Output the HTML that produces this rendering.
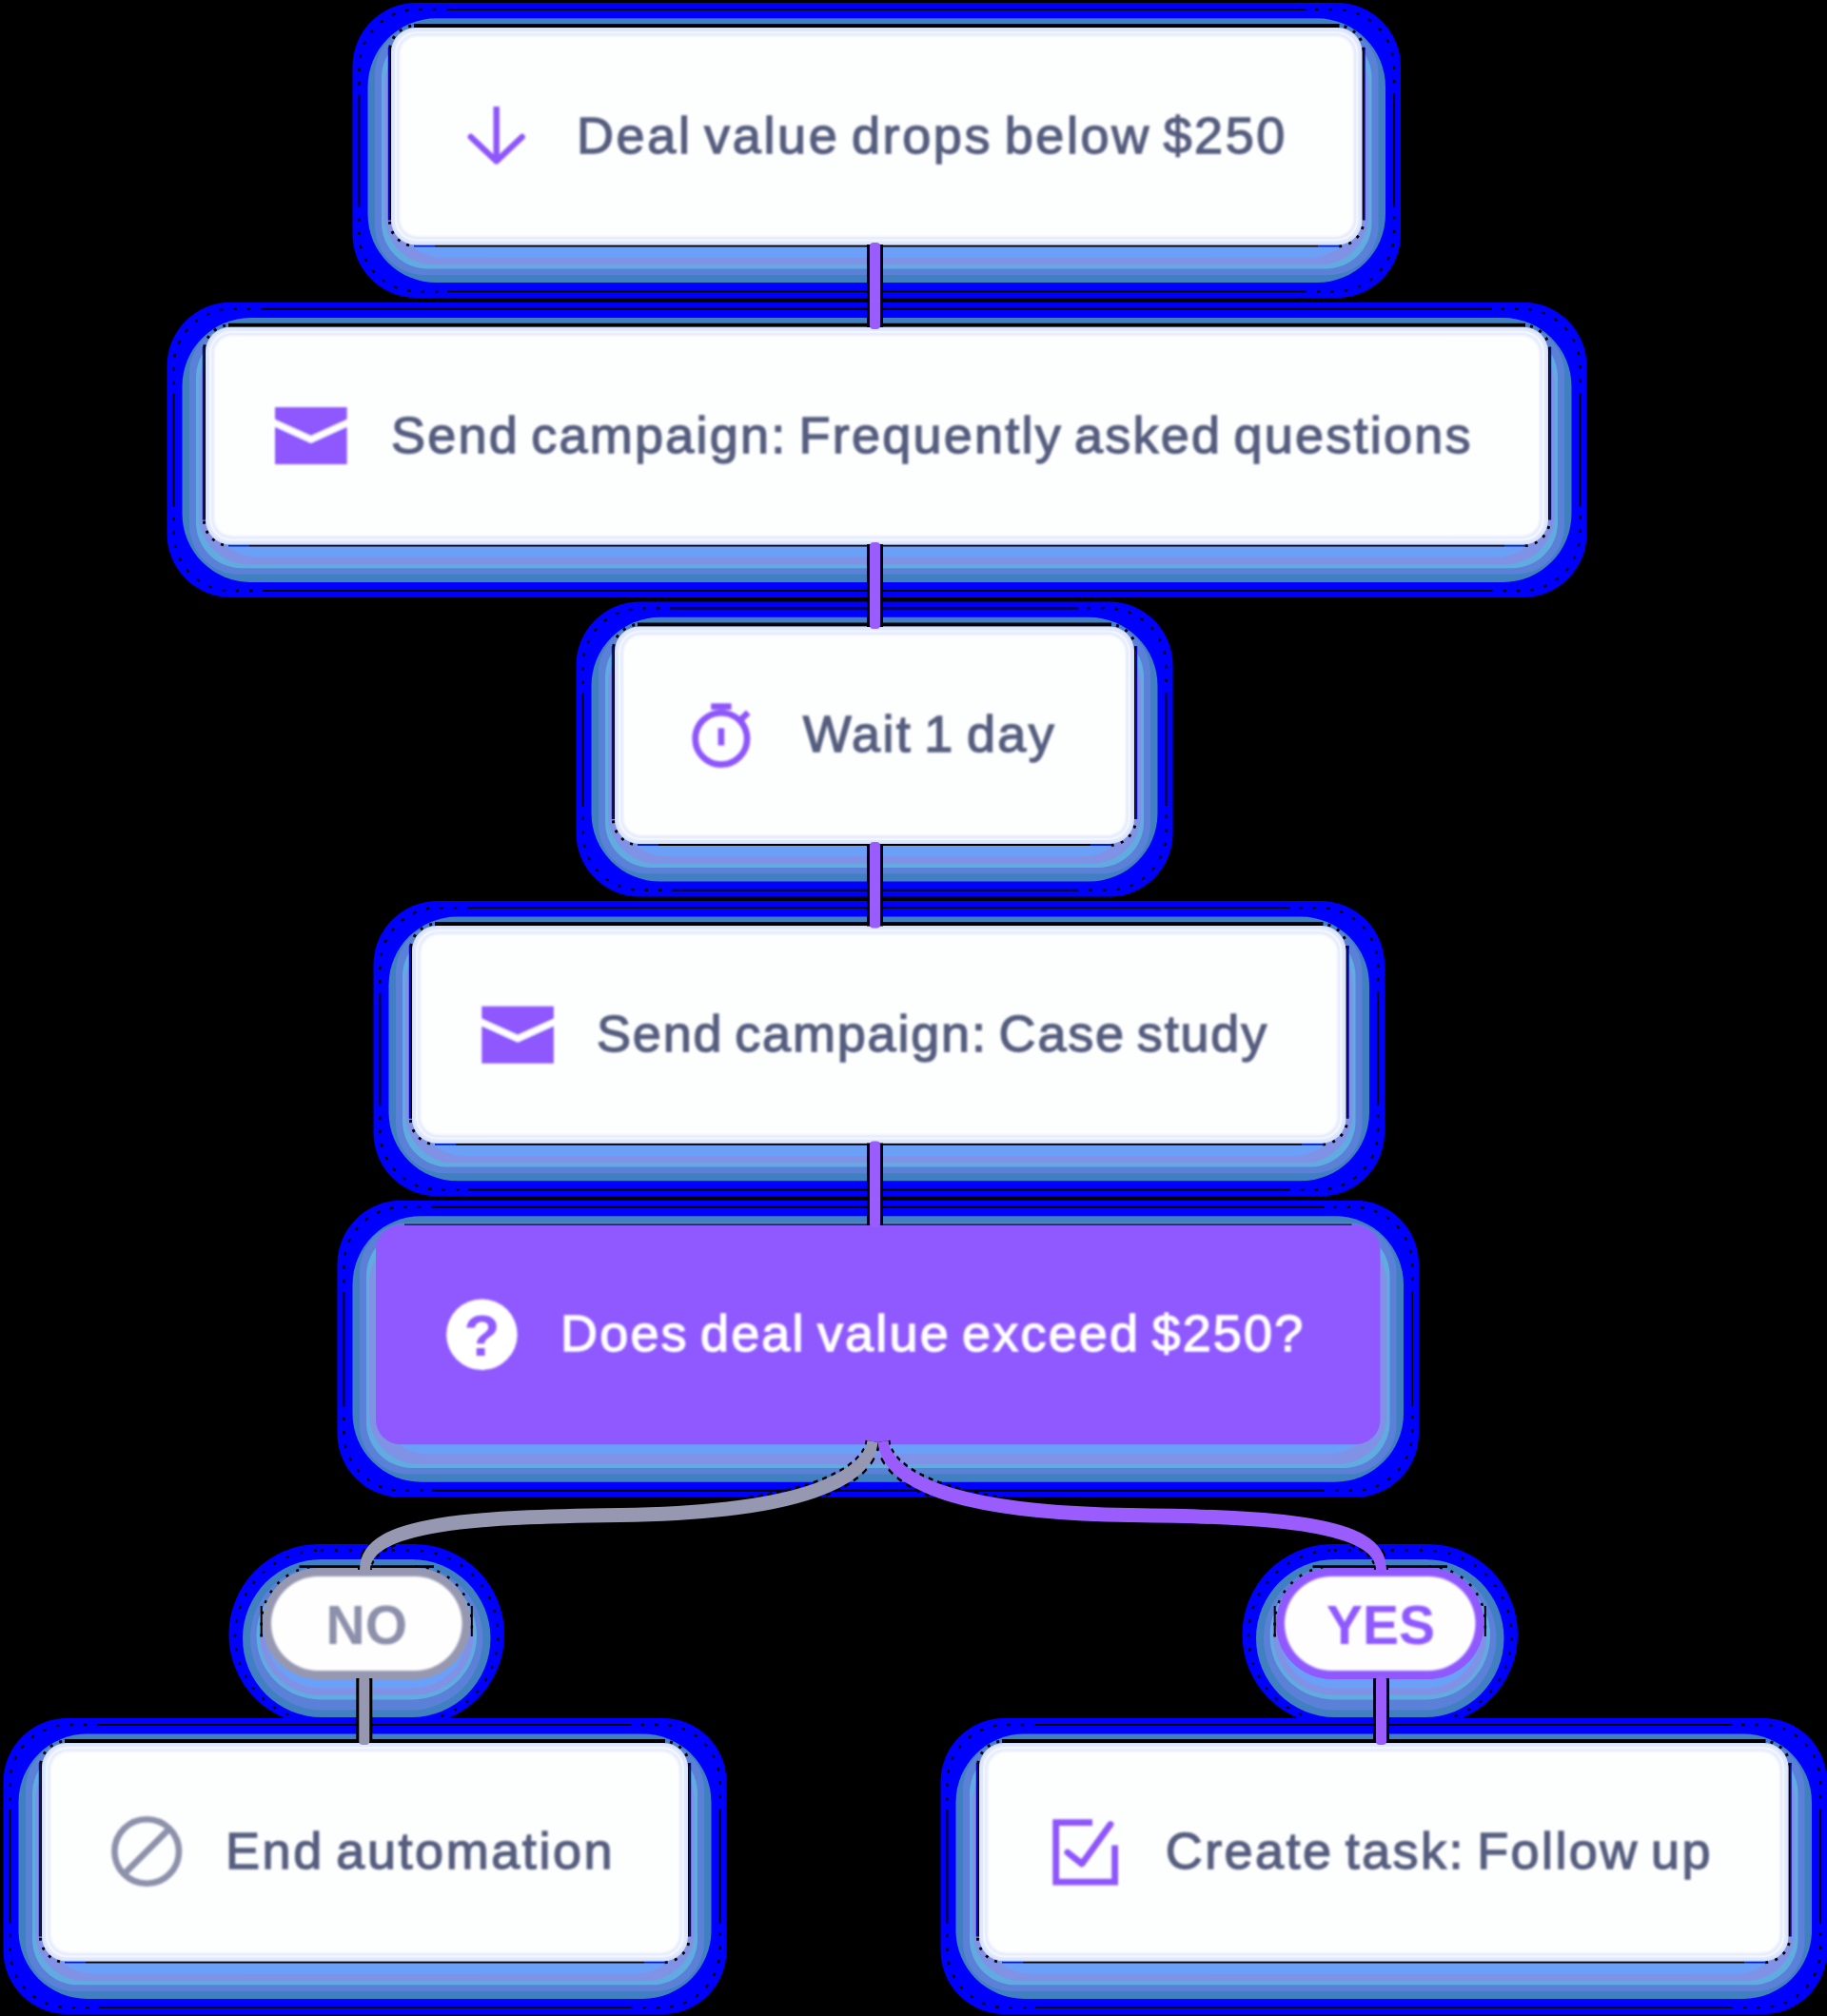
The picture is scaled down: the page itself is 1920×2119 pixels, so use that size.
<!DOCTYPE html>
<html><head><meta charset="utf-8"><title>Automation flow</title>
<style>
html,body{margin:0;padding:0;background:#000;}
body{width:1920px;height:2119px;position:relative;overflow:hidden;font-family:"Liberation Sans",sans-serif;}
.t{position:absolute;white-space:nowrap;font-weight:normal;font-size:54px;line-height:54px;filter:blur(0.9px);-webkit-text-stroke:1.35px currentColor;}
.bd{font-weight:bold;-webkit-text-stroke:0;}
svg{position:absolute;left:0;top:0;}
</style></head><body>
<svg width="1920" height="2119" viewBox="0 0 1920 2119" fill="none"><defs><filter id="bl" x="-5%" y="-5%" width="110%" height="110%"><feGaussianBlur stdDeviation="0.8"/></filter><filter id="bl2" x="-5%" y="-5%" width="110%" height="110%"><feGaussianBlur stdDeviation="1.1"/></filter></defs><rect x="370.5" y="2.9" width="1101.5" height="310.2" rx="67" fill="#0000ff"/><rect x="386.5" y="19.3" width="1069.5" height="277.8" rx="72" fill="#4080c0"/><rect x="394" y="25.9" width="1054.5" height="263.1" rx="52" fill="#5a80d8"/><rect x="401" y="33.9" width="1040.5" height="248.5" rx="48" fill="#60ace0"/><rect x="404" y="37.9" width="1034.5" height="240.5" rx="52" fill="#8092e6"/><rect x="414" y="44.9" width="1014.5" height="225.9" rx="52" fill="#6aa0f8"/><path d="M377.4 98.9V70.9A61 61 0 0 1 438.4 9.9H470M1372.5 9.9H1404.1A61 61 0 0 1 1465.1 70.9V98.9M1465.1 217.6V245.2A61 61 0 0 1 1404.1 306.2H1372.5M470 306.2H438.4A61 61 0 0 1 377.4 245.2V217.6" stroke="#000" stroke-width="2.4" stroke-dasharray="3.5 11" stroke-dashoffset="5"/><path d="M470 9.9H1372.5M470 306.2H1372.5M377.4 98.9V217.6M1465.1 98.9V217.6" stroke="#000" stroke-width="2"/><path d="M409.4 50.9V54.5A27.6 27.6 0 0 1 437 26.9H437.4M1405.1 26.9H1405.5A27.6 27.6 0 0 1 1433.1 54.5V50.9M1433.1 230.8V231.2A27.6 27.6 0 0 1 1405.5 258.8H1405.1M437.4 258.8H437A27.6 27.6 0 0 1 409.4 231.2V230.8" stroke="#000" stroke-width="3" stroke-dasharray="3 7.5" stroke-dashoffset="3"/><path d="M435 26.9H1407.5" stroke="#000" stroke-width="4"/><path d="M435 258.6H457M1385.5 258.6H1407.5" stroke="#0020c0" stroke-width="2"/><path d="M457 258.6H1385.5" stroke="#000" stroke-width="2"/><path d="M408.6 49.9V231.6M1433.9 49.9V231.6" stroke="#0000c8" stroke-width="1.6"/><path d="M410.2 49.9V231.6M1432.3 49.9V231.6" stroke="#000" stroke-width="1.8"/><rect x="411" y="28.9" width="1020.5" height="228.7" rx="26" fill="#d4defe"/><rect x="412.4" y="30.3" width="1017.7" height="225.9" rx="24.9" fill="#e2e8fb"/><rect x="415" y="32.9" width="1012.5" height="220.7" rx="22.8" fill="#f0f7ff"/><rect x="417.2" y="35.1" width="1008.1" height="216.3" rx="21" fill="#e8ecfd"/><rect x="419.6" y="37.5" width="1003.3" height="211.5" rx="19.1" fill="#f5f7fe"/><rect x="421.2" y="39.1" width="1000.1" height="208.3" rx="17.8" fill="#fdfefe"/><rect x="175.5" y="317.7" width="1492" height="310.2" rx="67" fill="#0000ff"/><rect x="191.5" y="334.1" width="1460" height="277.8" rx="72" fill="#4080c0"/><rect x="199" y="340.7" width="1445" height="263.1" rx="52" fill="#5a80d8"/><rect x="206" y="348.7" width="1431" height="248.5" rx="48" fill="#60ace0"/><rect x="209" y="352.7" width="1425" height="240.5" rx="52" fill="#8092e6"/><rect x="219" y="359.7" width="1405" height="225.9" rx="52" fill="#6aa0f8"/><path d="M182.4 413.7V385.7A61 61 0 0 1 243.4 324.7H275M1568 324.7H1599.6A61 61 0 0 1 1660.6 385.7V413.7M1660.6 532.4V560A61 61 0 0 1 1599.6 621H1568M275 621H243.4A61 61 0 0 1 182.4 560V532.4" stroke="#000" stroke-width="2.4" stroke-dasharray="3.5 11" stroke-dashoffset="5"/><path d="M275 324.7H1568M275 621H1568M182.4 413.7V532.4M1660.6 413.7V532.4" stroke="#000" stroke-width="2"/><path d="M214.4 365.7V369.3A27.6 27.6 0 0 1 242 341.7H242.4M1600.6 341.7H1601A27.6 27.6 0 0 1 1628.6 369.3V365.7M1628.6 545.6V546A27.6 27.6 0 0 1 1601 573.6H1600.6M242.4 573.6H242A27.6 27.6 0 0 1 214.4 546V545.6" stroke="#000" stroke-width="3" stroke-dasharray="3 7.5" stroke-dashoffset="3"/><path d="M240 341.7H1603" stroke="#000" stroke-width="4"/><path d="M240 573.4H262M1581 573.4H1603" stroke="#0020c0" stroke-width="2"/><path d="M262 573.4H1581" stroke="#000" stroke-width="2"/><path d="M213.6 364.7V546.4M1629.4 364.7V546.4" stroke="#0000c8" stroke-width="1.6"/><path d="M215.2 364.7V546.4M1627.8 364.7V546.4" stroke="#000" stroke-width="1.8"/><rect x="216" y="343.7" width="1411" height="228.7" rx="26" fill="#d4defe"/><rect x="217.4" y="345.1" width="1408.2" height="225.9" rx="24.9" fill="#e2e8fb"/><rect x="220" y="347.7" width="1403" height="220.7" rx="22.8" fill="#f0f7ff"/><rect x="222.2" y="349.9" width="1398.6" height="216.3" rx="21" fill="#e8ecfd"/><rect x="224.6" y="352.3" width="1393.8" height="211.5" rx="19.1" fill="#f5f7fe"/><rect x="226.2" y="353.9" width="1390.6" height="208.3" rx="17.8" fill="#fdfefe"/><rect x="605.5" y="632.4" width="627" height="310.2" rx="67" fill="#0000ff"/><rect x="621.5" y="648.8" width="595" height="277.8" rx="72" fill="#4080c0"/><rect x="629" y="655.4" width="580" height="263.1" rx="52" fill="#5a80d8"/><rect x="636" y="663.4" width="566" height="248.5" rx="48" fill="#60ace0"/><rect x="639" y="667.4" width="560" height="240.5" rx="52" fill="#8092e6"/><rect x="649" y="674.4" width="540" height="225.9" rx="52" fill="#6aa0f8"/><path d="M612.4 728.4V700.4A61 61 0 0 1 673.4 639.4H705M1133 639.4H1164.6A61 61 0 0 1 1225.6 700.4V728.4M1225.6 847.1V874.7A61 61 0 0 1 1164.6 935.7H1133M705 935.7H673.4A61 61 0 0 1 612.4 874.7V847.1" stroke="#000" stroke-width="2.4" stroke-dasharray="3.5 11" stroke-dashoffset="5"/><path d="M705 639.4H1133M705 935.7H1133M612.4 728.4V847.1M1225.6 728.4V847.1" stroke="#000" stroke-width="2"/><path d="M644.4 680.4V684A27.6 27.6 0 0 1 672 656.4H672.4M1165.6 656.4H1166A27.6 27.6 0 0 1 1193.6 684V680.4M1193.6 860.3V860.7A27.6 27.6 0 0 1 1166 888.3H1165.6M672.4 888.3H672A27.6 27.6 0 0 1 644.4 860.7V860.3" stroke="#000" stroke-width="3" stroke-dasharray="3 7.5" stroke-dashoffset="3"/><path d="M670 656.4H1168" stroke="#000" stroke-width="4"/><path d="M670 888.1H692M1146 888.1H1168" stroke="#0020c0" stroke-width="2"/><path d="M692 888.1H1146" stroke="#000" stroke-width="2"/><path d="M643.6 679.4V861.1M1194.4 679.4V861.1" stroke="#0000c8" stroke-width="1.6"/><path d="M645.2 679.4V861.1M1192.8 679.4V861.1" stroke="#000" stroke-width="1.8"/><rect x="646" y="658.4" width="546" height="228.7" rx="26" fill="#d4defe"/><rect x="647.4" y="659.8" width="543.2" height="225.9" rx="24.9" fill="#e2e8fb"/><rect x="650" y="662.4" width="538" height="220.7" rx="22.8" fill="#f0f7ff"/><rect x="652.2" y="664.6" width="533.6" height="216.3" rx="21" fill="#e8ecfd"/><rect x="654.6" y="667" width="528.8" height="211.5" rx="19.1" fill="#f5f7fe"/><rect x="656.2" y="668.6" width="525.6" height="208.3" rx="17.8" fill="#fdfefe"/><rect x="392.5" y="947.1" width="1062.5" height="310.2" rx="67" fill="#0000ff"/><rect x="408.5" y="963.5" width="1030.5" height="277.8" rx="72" fill="#4080c0"/><rect x="416" y="970.1" width="1015.5" height="263.1" rx="52" fill="#5a80d8"/><rect x="423" y="978.1" width="1001.5" height="248.5" rx="48" fill="#60ace0"/><rect x="426" y="982.1" width="995.5" height="240.5" rx="52" fill="#8092e6"/><rect x="436" y="989.1" width="975.5" height="225.9" rx="52" fill="#6aa0f8"/><path d="M399.4 1043.1V1015.1A61 61 0 0 1 460.4 954.1H492M1355.5 954.1H1387.1A61 61 0 0 1 1448.1 1015.1V1043.1M1448.1 1161.8V1189.4A61 61 0 0 1 1387.1 1250.4H1355.5M492 1250.4H460.4A61 61 0 0 1 399.4 1189.4V1161.8" stroke="#000" stroke-width="2.4" stroke-dasharray="3.5 11" stroke-dashoffset="5"/><path d="M492 954.1H1355.5M492 1250.4H1355.5M399.4 1043.1V1161.8M1448.1 1043.1V1161.8" stroke="#000" stroke-width="2"/><path d="M431.4 995.1V998.7A27.6 27.6 0 0 1 459 971.1H459.4M1388.1 971.1H1388.5A27.6 27.6 0 0 1 1416.1 998.7V995.1M1416.1 1175V1175.4A27.6 27.6 0 0 1 1388.5 1203H1388.1M459.4 1203H459A27.6 27.6 0 0 1 431.4 1175.4V1175" stroke="#000" stroke-width="3" stroke-dasharray="3 7.5" stroke-dashoffset="3"/><path d="M457 971.1H1390.5" stroke="#000" stroke-width="4"/><path d="M457 1202.8H479M1368.5 1202.8H1390.5" stroke="#0020c0" stroke-width="2"/><path d="M479 1202.8H1368.5" stroke="#000" stroke-width="2"/><path d="M430.6 994.1V1175.8M1416.9 994.1V1175.8" stroke="#0000c8" stroke-width="1.6"/><path d="M432.2 994.1V1175.8M1415.3 994.1V1175.8" stroke="#000" stroke-width="1.8"/><rect x="433" y="973.1" width="981.5" height="228.7" rx="26" fill="#d4defe"/><rect x="434.4" y="974.5" width="978.7" height="225.9" rx="24.9" fill="#e2e8fb"/><rect x="437" y="977.1" width="973.5" height="220.7" rx="22.8" fill="#f0f7ff"/><rect x="439.2" y="979.3" width="969.1" height="216.3" rx="21" fill="#e8ecfd"/><rect x="441.6" y="981.7" width="964.3" height="211.5" rx="19.1" fill="#f5f7fe"/><rect x="443.2" y="983.3" width="961.1" height="208.3" rx="17.8" fill="#fdfefe"/><rect x="354.5" y="1261.8" width="1136.5" height="311.9" rx="67" fill="#0000ff"/><rect x="370.5" y="1278.2" width="1104.5" height="279.5" rx="72" fill="#4080c0"/><rect x="378" y="1284.8" width="1089.5" height="264.8" rx="52" fill="#5a80d8"/><rect x="385" y="1292.8" width="1075.5" height="250.2" rx="48" fill="#60ace0"/><rect x="388" y="1296.8" width="1069.5" height="242.2" rx="52" fill="#8092e6"/><rect x="398" y="1303.8" width="1049.5" height="224.4" rx="52" fill="#6aa0f8"/><path d="M361.4 1357.8V1329.8A61 61 0 0 1 422.4 1268.8H454M1391.5 1268.8H1423.1A61 61 0 0 1 1484.1 1329.8V1357.8M1484.1 1478.2V1505.8A61 61 0 0 1 1423.1 1566.8H1391.5M454 1566.8H422.4A61 61 0 0 1 361.4 1505.8V1478.2" stroke="#000" stroke-width="2.4" stroke-dasharray="3.5 11" stroke-dashoffset="5"/><path d="M454 1268.8H1391.5M454 1566.8H1391.5M361.4 1357.8V1478.2M1484.1 1357.8V1478.2" stroke="#000" stroke-width="2"/><path d="M425 1287.2H1420.5" stroke="#001a10" stroke-width="1.6"/><rect x="395" y="1287.8" width="1055.5" height="230.4" rx="26" fill="#8f59ff"/><rect x="240.5" y="1623" width="289.5" height="190" rx="95" fill="#0000ff"/><rect x="255" y="1639" width="260.5" height="166" rx="83" fill="#4080c0"/><rect x="263" y="1646" width="244.5" height="151.6" rx="75.8" fill="#5a80d8"/><rect x="269.5" y="1652" width="231.5" height="134.4" rx="67.2" fill="#60ace0"/><rect x="273" y="1656" width="224.5" height="125.7" rx="62.9" fill="#8092e6"/><rect x="280" y="1662" width="210.5" height="112.3" rx="56.1" fill="#6aa0f8"/><rect x="247" y="1629.5" width="276.5" height="179.5" rx="89.8" stroke="#000" stroke-width="2.4" stroke-dasharray="3 12"/><path d="M274.7 1720.5V1706.4A59.8 59.8 0 0 1 334.5 1646.6M436 1646.6A59.8 59.8 0 0 1 495.8 1706.4V1720.5" stroke="#000" stroke-width="2.6" stroke-dasharray="3 9"/><path d="M314.5 1646.6H456" stroke="#000" stroke-width="2.6"/><path d="M274.7 1688V1720M495.8 1688V1720" stroke="#000" stroke-width="2"/><rect x="276" y="1648" width="218.5" height="117" rx="58.5" fill="#9698b2"/><rect x="285" y="1657" width="200.5" height="99" rx="49.5" fill="#fefefe" filter="url(#bl)"/><rect x="1305.5" y="1623" width="289.5" height="190" rx="95" fill="#0000ff"/><rect x="1320" y="1639" width="260.5" height="166" rx="83" fill="#4080c0"/><rect x="1328" y="1646" width="244.5" height="151.6" rx="75.8" fill="#5a80d8"/><rect x="1334.5" y="1652" width="231.5" height="134.4" rx="67.2" fill="#60ace0"/><rect x="1338" y="1656" width="224.5" height="125.7" rx="62.9" fill="#8092e6"/><rect x="1345" y="1662" width="210.5" height="112.3" rx="56.1" fill="#6aa0f8"/><rect x="1312" y="1629.5" width="276.5" height="179.5" rx="89.8" stroke="#000" stroke-width="2.4" stroke-dasharray="3 12"/><path d="M1339.7 1720.5V1706.4A59.8 59.8 0 0 1 1399.5 1646.6M1501 1646.6A59.8 59.8 0 0 1 1560.8 1706.4V1720.5" stroke="#000" stroke-width="2.6" stroke-dasharray="3 9"/><path d="M1379.5 1646.6H1521" stroke="#000" stroke-width="2.6"/><path d="M1339.7 1688V1720M1560.8 1688V1720" stroke="#000" stroke-width="2"/><rect x="1341" y="1648" width="218.5" height="117" rx="58.5" fill="#8f59ff"/><rect x="1350" y="1657" width="200.5" height="99" rx="49.5" fill="#fefefe" filter="url(#bl)"/><rect x="3.5" y="1806" width="760" height="311" rx="67" fill="#0000ff"/><rect x="19.5" y="1822.4" width="728" height="278.6" rx="72" fill="#4080c0"/><rect x="27" y="1829" width="713" height="263.9" rx="52" fill="#5a80d8"/><rect x="34" y="1837" width="699" height="249.3" rx="48" fill="#60ace0"/><rect x="37" y="1841" width="693" height="241.3" rx="52" fill="#8092e6"/><rect x="47" y="1848" width="673" height="226.7" rx="52" fill="#6aa0f8"/><path d="M10.4 1902V1874A61 61 0 0 1 71.4 1813H103M664 1813H695.6A61 61 0 0 1 756.6 1874V1902M756.6 2021.5V2049.1A61 61 0 0 1 695.6 2110.1H664M103 2110.1H71.4A61 61 0 0 1 10.4 2049.1V2021.5" stroke="#000" stroke-width="2.4" stroke-dasharray="3.5 11" stroke-dashoffset="5"/><path d="M103 1813H664M103 2110.1H664M10.4 1902V2021.5M756.6 1902V2021.5" stroke="#000" stroke-width="2"/><path d="M42.4 1854V1857.6A27.6 27.6 0 0 1 70 1830H70.4M696.6 1830H697A27.6 27.6 0 0 1 724.6 1857.6V1854M724.6 2034.7V2035.1A27.6 27.6 0 0 1 697 2062.7H696.6M70.4 2062.7H70A27.6 27.6 0 0 1 42.4 2035.1V2034.7" stroke="#000" stroke-width="3" stroke-dasharray="3 7.5" stroke-dashoffset="3"/><path d="M68 1830H699" stroke="#000" stroke-width="4"/><path d="M68 2062.5H90M677 2062.5H699" stroke="#0020c0" stroke-width="2"/><path d="M90 2062.5H677" stroke="#000" stroke-width="2"/><path d="M41.6 1853V2035.5M725.4 1853V2035.5" stroke="#0000c8" stroke-width="1.6"/><path d="M43.2 1853V2035.5M723.8 1853V2035.5" stroke="#000" stroke-width="1.8"/><rect x="44" y="1832" width="679" height="229.5" rx="26" fill="#d4defe"/><rect x="45.4" y="1833.4" width="676.2" height="226.7" rx="24.9" fill="#e2e8fb"/><rect x="48" y="1836" width="671" height="221.5" rx="22.8" fill="#f0f7ff"/><rect x="50.2" y="1838.2" width="666.6" height="217.1" rx="21" fill="#e8ecfd"/><rect x="52.6" y="1840.6" width="661.8" height="212.3" rx="19.1" fill="#f5f7fe"/><rect x="54.2" y="1842.2" width="658.6" height="209.1" rx="17.8" fill="#fdfefe"/><rect x="988.5" y="1806" width="931.5" height="311" rx="67" fill="#0000ff"/><rect x="1004.5" y="1822.4" width="899.5" height="278.6" rx="72" fill="#4080c0"/><rect x="1012" y="1829" width="884.5" height="263.9" rx="52" fill="#5a80d8"/><rect x="1019" y="1837" width="870.5" height="249.3" rx="48" fill="#60ace0"/><rect x="1022" y="1841" width="864.5" height="241.3" rx="52" fill="#8092e6"/><rect x="1032" y="1848" width="844.5" height="226.7" rx="52" fill="#6aa0f8"/><path d="M995.4 1902V1874A61 61 0 0 1 1056.4 1813H1088M1820.5 1813H1852.1A61 61 0 0 1 1913.1 1874V1902M1913.1 2021.5V2049.1A61 61 0 0 1 1852.1 2110.1H1820.5M1088 2110.1H1056.4A61 61 0 0 1 995.4 2049.1V2021.5" stroke="#000" stroke-width="2.4" stroke-dasharray="3.5 11" stroke-dashoffset="5"/><path d="M1088 1813H1820.5M1088 2110.1H1820.5M995.4 1902V2021.5M1913.1 1902V2021.5" stroke="#000" stroke-width="2"/><path d="M1027.4 1854V1857.6A27.6 27.6 0 0 1 1055 1830H1055.4M1853.1 1830H1853.5A27.6 27.6 0 0 1 1881.1 1857.6V1854M1881.1 2034.7V2035.1A27.6 27.6 0 0 1 1853.5 2062.7H1853.1M1055.4 2062.7H1055A27.6 27.6 0 0 1 1027.4 2035.1V2034.7" stroke="#000" stroke-width="3" stroke-dasharray="3 7.5" stroke-dashoffset="3"/><path d="M1053 1830H1855.5" stroke="#000" stroke-width="4"/><path d="M1053 2062.5H1075M1833.5 2062.5H1855.5" stroke="#0020c0" stroke-width="2"/><path d="M1075 2062.5H1833.5" stroke="#000" stroke-width="2"/><path d="M1026.6 1853V2035.5M1881.9 1853V2035.5" stroke="#0000c8" stroke-width="1.6"/><path d="M1028.2 1853V2035.5M1880.3 1853V2035.5" stroke="#000" stroke-width="1.8"/><rect x="1029" y="1832" width="850.5" height="229.5" rx="26" fill="#d4defe"/><rect x="1030.4" y="1833.4" width="847.7" height="226.7" rx="24.9" fill="#e2e8fb"/><rect x="1033" y="1836" width="842.5" height="221.5" rx="22.8" fill="#f0f7ff"/><rect x="1035.2" y="1838.2" width="838.1" height="217.1" rx="21" fill="#e8ecfd"/><rect x="1037.6" y="1840.6" width="833.3" height="212.3" rx="19.1" fill="#f5f7fe"/><rect x="1039.2" y="1842.2" width="830.1" height="209.1" rx="17.8" fill="#fdfefe"/><rect x="911" y="257" width="17" height="87" fill="#000"/><rect x="914" y="255" width="11" height="91" rx="4" fill="#9a5cfc"/><rect x="911" y="572" width="17" height="87" fill="#000"/><rect x="914" y="570" width="11" height="91" rx="4" fill="#9a5cfc"/><rect x="911" y="887" width="17" height="86.5" fill="#000"/><rect x="914" y="885" width="11" height="90.5" rx="4" fill="#9a5cfc"/><rect x="911" y="1201.5" width="17" height="86.5" fill="#000"/><rect x="914" y="1199.5" width="11" height="90.5" rx="4" fill="#9a5cfc"/><rect x="374.3" y="1764" width="17" height="68" fill="#000"/><rect x="377.3" y="1762" width="11" height="72" rx="4" fill="#9698b2"/><rect x="1443" y="1764" width="17" height="68" fill="#000"/><rect x="1446" y="1762" width="11" height="72" rx="4" fill="#9a5cfc"/><g transform="translate(0 1515) scale(1 1.3636) translate(0 -1515)"><path d="M917 1515C913.5 1542.1 848 1570 652 1571.8C500 1573.3 383.5 1577.3 383.5 1614" stroke="#000" stroke-width="15" stroke-dasharray="5 5"/><path d="M928 1515C931.5 1542.1 992 1570 1187 1571.8C1338 1573.3 1451.5 1577.3 1451.5 1614" stroke="#000" stroke-width="15" stroke-dasharray="5 5"/><path d="M917 1515C913.5 1542.1 848 1570 652 1571.8C500 1573.3 383.5 1577.3 383.5 1614" stroke="#9698b2" stroke-width="11"/><path d="M928 1515C931.5 1542.1 992 1570 1187 1571.8C1338 1573.3 1451.5 1577.3 1451.5 1614" stroke="#9a5cfc" stroke-width="11"/></g><g filter="url(#bl)"><g stroke="#8d55fb" stroke-width="6.4"><path d="M521.7 112 V169"/><path d="M494.8 144 L521.7 169.5 L548.6 144" stroke-linecap="round" stroke-linejoin="round"/></g><rect x="289" y="428" width="75.6" height="60" fill="#8f59ff"/><path d="M287 443.9 L326.8 461.9 L366.6 443.9" stroke="#fff" stroke-width="7"/><rect x="506.3" y="1057.7" width="75.6" height="60" fill="#8f59ff"/><path d="M504.3 1073.6000000000001 L544.1 1091.6000000000001 L583.9 1073.6000000000001" stroke="#fff" stroke-width="7"/><g stroke="#8d55fb" stroke-width="6.6"><circle cx="757.9" cy="776.4" r="27.2"/><path d="M747.2 742.6 H768.6"/><path d="M757.9 765.4 V783.5"/><path d="M778.5 756.5 L786.2 748.8"/></g><circle cx="506.4" cy="1402.7" r="37.3" fill="#fff"/><g stroke="#8d91aa" stroke-width="6.6"><circle cx="154.2" cy="1946" r="33.8"/><path d="M130.3 1969.8 L178 1922.2"/></g><g stroke="#8d55fb" stroke-width="6.8"><path d="M1148 1915.7 H1109.7 V1978.1 H1171.6 V1939.5" stroke-linejoin="miter"/><path d="M1121.9 1947.1 L1137 1959 L1167 1917.6" stroke-linecap="round" stroke-linejoin="round"/></g></g></svg>
<div class="t" style="left:606px;top:114.8px;color:#565e7f;letter-spacing:2.612px;word-spacing:-5.0px">Deal value drops below $250</div>
<div class="t" style="left:411.1px;top:429.5px;color:#565e7f;letter-spacing:2.216px;word-spacing:-5.0px">Send campaign: Frequently asked questions</div>
<div class="t" style="left:843.8px;top:744.3px;color:#565e7f;letter-spacing:2.309px;word-spacing:-5.0px">Wait 1 day</div>
<div class="t" style="left:627px;top:1058.9px;color:#565e7f;letter-spacing:1.824px;word-spacing:-5.0px">Send campaign: Case study</div>
<div class="t" style="left:589px;top:1373.6px;color:#ffffff;letter-spacing:2.176px;word-spacing:-5.0px">Does deal value exceed $250?</div>
<div class="t" style="left:237px;top:1918.1px;color:#565e7f;letter-spacing:2.567px;word-spacing:-5.0px">End automation</div>
<div class="t" style="left:1224.8px;top:1918.1px;color:#565e7f;letter-spacing:2.408px;word-spacing:-5.0px">Create task: Follow up</div>
<div class="t bd" style="left:235.3px;width:300px;text-align:center;top:1680.1px;color:#8d90aa;font-size:57px;line-height:57px">NO</div>
<div class="t bd" style="left:1301px;width:300px;text-align:center;top:1680.1px;color:#8f59ff;font-size:57px;line-height:57px">YES</div>
<div class="t bd" style="left:476.4px;width:60px;text-align:center;top:1373.4px;color:#8f59ff;font-size:62px;line-height:62px">?</div>
</body></html>
